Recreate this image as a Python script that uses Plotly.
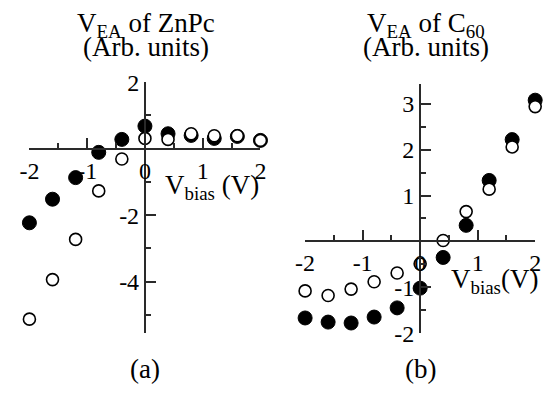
import plotly.graph_objects as go

W, H = 547, 406

# data
vbias = [-2.0, -1.6, -1.2, -0.8, -0.4, 0.0, 0.4, 0.8, 1.2, 1.6, 2.0]
znpc_filled = [-2.23, -1.52, -0.87, -0.11, 0.28, 0.68, 0.45, 0.40, 0.31, 0.37, 0.25]
znpc_open = [-5.13, -3.94, -2.73, -1.27, -0.31, 0.31, 0.28, 0.45, 0.39, 0.39, 0.25]
c60_filled = [-1.67, -1.76, -1.78, -1.65, -1.45, -1.02, -0.35, 0.35, 1.33, 2.22, 3.08]
c60_open = [-1.08, -1.18, -1.04, -0.88, -0.69, -0.49, 0.02, 0.65, 1.14, 2.06, 2.94]

xa_ticks = [-2, -1, 0, 1, 2]
ya_ticks = [-4, -2, 2]
yb_ticks = [-2, -1, 1, 2, 3]

FONT = "Times New Roman, Liberation Serif, serif"
AX = "#2a2a2a"


def px_x(p):
    return p / W


def px_y(p):
    return (H - p) / H


xa_dom = [px_x(20), px_x(258)]
ya_rng = [-5.55, 2.0]
ya_dom = [px_y(342), px_y(74)]
xb_dom = [px_x(304), px_x(541)]
yb_rng = [-2.0, 3.43]
yb_dom = [px_y(342), px_y(76)]
x_rng = [-2.0, 2.0]


def pos_of(val, rng, dom):
    return dom[0] + (val - rng[0]) / (rng[1] - rng[0]) * (dom[1] - dom[0])


fig = go.Figure()

filled = dict(symbol="circle", size=14, color="black", line=dict(color="black", width=1))
opened = dict(symbol="circle", size=12, color="white", line=dict(color="black", width=1.6))

fig.add_trace(go.Scatter(x=vbias, y=znpc_filled, mode="markers", marker=filled,
                         xaxis="x", yaxis="y", cliponaxis=False, showlegend=False))
fig.add_trace(go.Scatter(x=vbias, y=znpc_open, mode="markers", marker=opened,
                         xaxis="x", yaxis="y", cliponaxis=False, showlegend=False))
fig.add_trace(go.Scatter(x=vbias, y=c60_filled, mode="markers", marker=filled,
                         xaxis="x2", yaxis="y2", cliponaxis=False, showlegend=False))
fig.add_trace(go.Scatter(x=vbias, y=c60_open, mode="markers", marker=opened,
                         xaxis="x2", yaxis="y2", cliponaxis=False, showlegend=False))

tickfont = dict(family=FONT, size=24, color="black")

common_x = dict(range=x_rng, showgrid=False, zeroline=False, showline=True, linecolor=AX,
                linewidth=2, ticks="inside", ticklen=10, tickwidth=2, tickcolor=AX,
                tickvals=xa_ticks, ticktext=[str(v) for v in xa_ticks], tickfont=tickfont,
                minor=dict(dtick=0.5, tick0=0, ticks="inside", ticklen=5, tickwidth=2,
                           tickcolor=AX, showgrid=False),
                anchor="free", fixedrange=True)
common_y = dict(showgrid=False, zeroline=False, showline=True, linecolor=AX, linewidth=2,
                ticks="inside", ticklen=10, tickwidth=2, tickcolor=AX, tickfont=tickfont,
                anchor="free", fixedrange=True)

fig.update_layout(
    width=W, height=H,
    margin=dict(l=0, r=0, t=0, b=0),
    paper_bgcolor="white", plot_bgcolor="rgba(0,0,0,0)",
    font=dict(family=FONT, color="black"),
    xaxis=dict(common_x, domain=xa_dom, position=pos_of(0, ya_rng, ya_dom)),
    yaxis=dict(common_y, domain=ya_dom, range=ya_rng, tickvals=ya_ticks,
               ticktext=[str(v) for v in ya_ticks],
               minor=dict(dtick=1, tick0=0, ticks="inside", ticklen=5, tickwidth=2,
                          tickcolor=AX, showgrid=False),
               position=pos_of(0, x_rng, xa_dom)),
    xaxis2=dict(common_x, domain=xb_dom, position=pos_of(0, yb_rng, yb_dom)),
    yaxis2=dict(common_y, domain=yb_dom, range=yb_rng, tickvals=yb_ticks,
                ticktext=[str(v) for v in yb_ticks],
                minor=dict(dtick=0.5, tick0=0, ticks="inside", ticklen=5, tickwidth=2,
                           tickcolor=AX, showgrid=False),
                position=pos_of(0, x_rng, xb_dom)),
)

tf = dict(family=FONT, size=27, color="black")
ann = [
    dict(x=px_x(140), y=px_y(-8), text="V<sub>EA</sub> of ZnPc", xanchor="center", yanchor="top"),
    dict(x=px_x(140), y=px_y(18), text="(Arb. units)", xanchor="center", yanchor="top"),
    dict(x=px_x(429), y=px_y(-8), text="V<sub>EA</sub> of C<sub>60</sub>", xanchor="center", yanchor="top"),
    dict(x=px_x(429), y=px_y(18), text="(Arb. units)", xanchor="center", yanchor="top"),
    dict(x=px_x(259), y=px_y(186), text="V<sub>bias</sub> (V)", xanchor="right", yanchor="middle"),
    dict(x=px_x(546), y=px_y(286), text="V<sub>bias</sub>(V)", xanchor="right", yanchor="middle"),
    dict(x=px_x(139), y=px_y(380), text="(a)", xanchor="center", yanchor="middle"),
    dict(x=px_x(423), y=px_y(380), text="(b)", xanchor="center", yanchor="middle"),
]
for a in ann:
    fig.add_annotation(xref="paper", yref="paper", showarrow=False, font=tf, **a)

fig.write_html("out.html")
